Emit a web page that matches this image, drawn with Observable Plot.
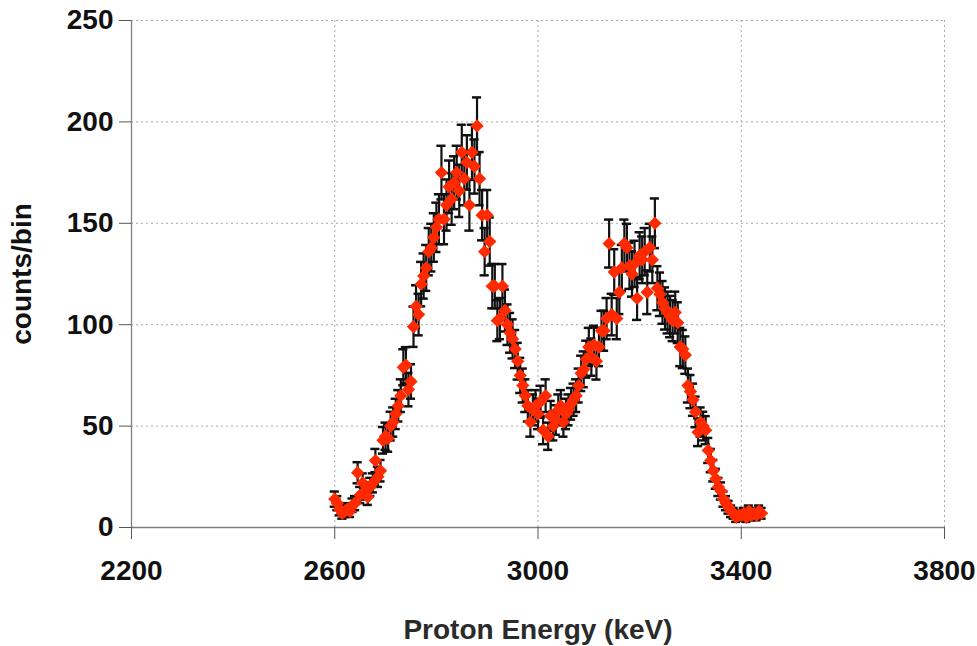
<!DOCTYPE html>
<html>
<head>
<meta charset="utf-8">
<script src="https://cdn.jsdelivr.net/npm/d3@7"></script>
<script src="https://cdn.jsdelivr.net/npm/@observablehq/plot@0.6"></script>
<style>
  html, body { margin: 0; padding: 0; background: #fff; }
</style>
</head>
<body>
<div id="chart"></div>
<script>
// Proton energy bins (keV)
const energy = [
  2600,2605,2610,2615,2620,2625,2630,2635,2640,2645,2650,2655,2660,2665,2670,2675,2680,2685,2690,2695,
  2700,2705,2710,2715,2720,2725,2730,2735,2740,2745,2750,2755,2760,2765,2770,2775,2780,2785,2790,2795,
  2800,2805,2810,2815,2820,2825,2830,2835,2840,2845,2850,2855,2860,2865,2870,2875,2880,2885,2890,2895,
  2900,2905,2910,2915,2920,2925,2930,2935,2940,2945,2950,2955,2960,2965,2970,2975,2980,2985,2990,2995,
  3000,3005,3010,3015,3020,3025,3030,3035,3040,3045,3050,3055,3060,3065,3070,3075,3080,3085,3090,3095,
  3100,3105,3110,3115,3120,3125,3130,3135,3140,3145,3150,3155,3160,3165,3170,3175,3180,3185,3190,3195,
  3200,3205,3210,3215,3220,3225,3230,3235,3240,3245,3250,3255,3260,3265,3270,3275,3280,3285,3290,3295,
  3300,3305,3310,3315,3320,3325,3330,3335,3340,3345,3350,3355,3360,3365,3370,3375,3380,3385,3390,3395,
  3400,3405,3410,3415,3420,3425,3430,3435,3440
];
// Counts per bin
const counts = [
  14,12,9,7,8,9,8,11,12,27,16,22,18,15,20,22,33,25,28,43,
  45,44,50,52,56,60,65,79,80,68,72,99,109,105,120,124,128,136,138,143,
  148,152,175,152,159,168,162,170,175,166,185,172,180,159,185,178,198,172,154,136,
  154,141,119,119,102,103,119,107,100,96,93,88,82,75,70,65,60,52,58,60,
  56,62,48,65,45,55,50,53,58,60,52,56,58,61,63,65,70,76,78,83,
  89,84,90,82,89,97,97,103,140,105,126,103,116,128,140,138,129,125,130,113,
  134,132,136,116,138,132,150,118,115,111,108,106,104,102,106,101,89,88,85,70,
  67,63,57,47,52,50,48,38,33,28,24,20,18,14,12,10,8,7,5,6,
  6,7,5,8,6,7,6,8,7
];
const xTicks = [2200, 2600, 3000, 3400, 3800];
const yTicks = [0, 50, 100, 150, 200, 250];
const xTitle = "Proton Energy (keV)";
const yTitle = "counts/bin";

// statistical (Poisson) error bars
const data = energy.map((e, i) => ({
  E: e,
  N: counts[i],
  lo: Math.max(0, counts[i] - Math.sqrt(counts[i])),
  hi: counts[i] + Math.sqrt(counts[i])
}));

const font = "'Liberation Sans', Arial, sans-serif";

const chart = Plot.plot({
  width: 977,
  height: 646,
  marginLeft: 131,
  marginRight: 33,
  marginTop: 20,
  marginBottom: 119,
  style: { fontFamily: font, background: "#fff", color: "#111" },
  x: { domain: [2200, 3800], label: null },
  y: { domain: [0, 250], label: null },
  marks: [
    Plot.gridY(yTicks.slice(1), { stroke: "#a8a8a8", strokeOpacity: 1, strokeDasharray: "2,3" }),
    Plot.gridX(xTicks.slice(1), { stroke: "#a8a8a8", strokeOpacity: 1, strokeDasharray: "2,3" }),
    Plot.ruleX([2200], { stroke: "#808080", strokeWidth: 1.3 }),
    Plot.ruleY([0], { stroke: "#808080", strokeWidth: 1.3 }),
    Plot.axisX({ ticks: xTicks, tickFormat: "d", tickSize: 12, tickPadding: 21, fontSize: 28, fontWeight: "bold",
                 stroke: "#555", fill: "#111", label: null }),
    Plot.axisY({ ticks: yTicks, tickFormat: "d", tickSize: 12, tickPadding: 6, fontSize: 28, fontWeight: "bold",
                 stroke: "#555", fill: "#111", label: null }),
    Plot.ruleX(data, { x: "E", y1: "lo", y2: "hi", stroke: "#111", strokeWidth: 2.2 }),
    Plot.ruleY(data, { y: "hi", x1: d => d.E - 9, x2: d => d.E + 9, stroke: "#111", strokeWidth: 2.5 }),
    Plot.ruleY(data, { y: "lo", x1: d => d.E - 9, x2: d => d.E + 9, stroke: "#111", strokeWidth: 2.5 }),
    Plot.dot(data, { x: "E", y: "N", symbol: "diamond2", r: 6, fill: "#ff2a00", stroke: "none" }),
    Plot.text([xTitle], { frameAnchor: "bottom", dy: 103, fontSize: 28, fontWeight: "bold",
                          fill: "#2a2a2a", lineAnchor: "middle" }),
    Plot.text([yTitle], { frameAnchor: "left", dx: -109, rotate: -90, fontSize: 28, fontWeight: "bold",
                          fill: "#111", lineAnchor: "middle", textAnchor: "middle" })
  ]
});
document.getElementById("chart").appendChild(chart);
</script>
</body>
</html>
